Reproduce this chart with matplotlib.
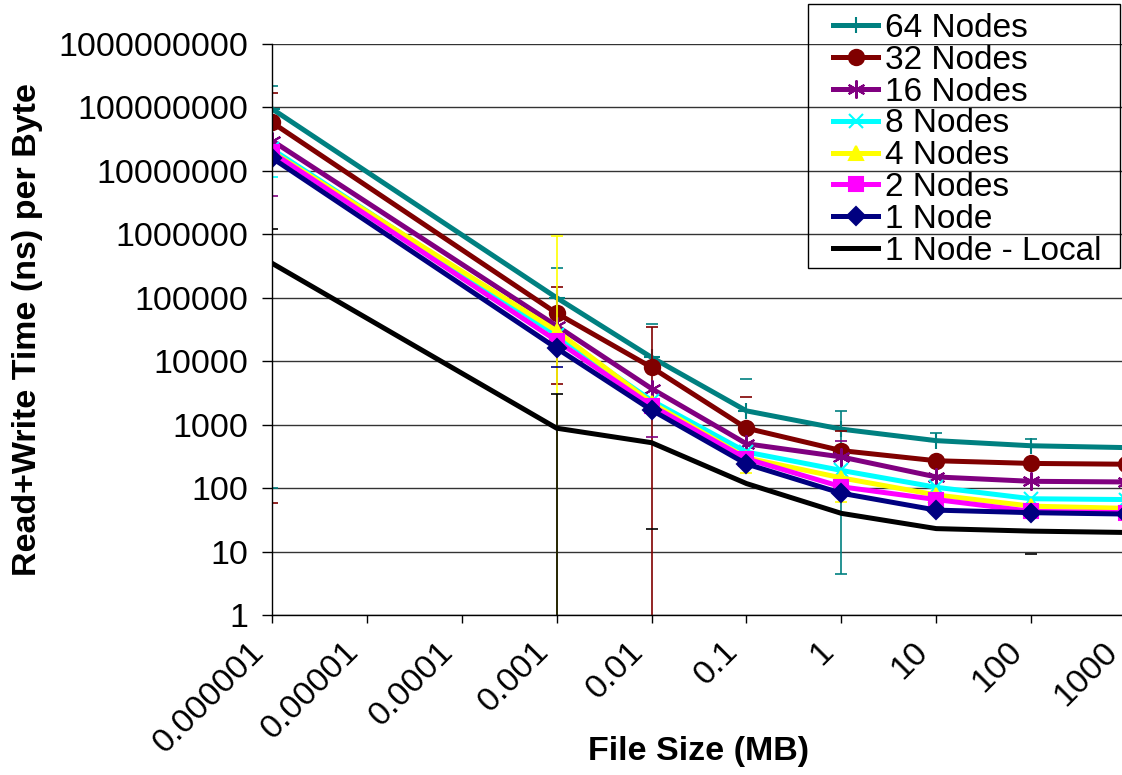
import numpy as np
import matplotlib
matplotlib.use("Agg")
from matplotlib import pyplot as plt
from matplotlib.ticker import FixedLocator, FixedFormatter, NullLocator
from matplotlib.transforms import ScaledTranslation
from matplotlib.patches import Rectangle

nan = np.nan

# file sizes in MB
sizes = [1e-6, 1e-3, 1e-2, 1e-1, 1, 10, 100, 1000]
x_ticks = [1e-6, 1e-5, 1e-4, 1e-3, 1e-2, 1e-1, 1, 10, 100, 1000]
x_labels = ['0.000001', '0.00001', '0.0001', '0.001', '0.01', '0.1',
            '1', '10', '100', '1000']
y_ticks = [1, 10, 100, 1000, 10000, 100000, 1000000, 10000000,
           100000000, 1000000000]

labels = ['64 Nodes', '32 Nodes', '16 Nodes', '8 Nodes', '4 Nodes',
          '2 Nodes', '1 Node', '1 Node - Local']

# mean read+write time (ns) per byte
t64 = [9.5e7, 1.0e5, 11500, 1650, 850, 560, 465, 435]
t32 = [5.8e7, 5.7e4, 8000, 880, 390, 270, 245, 238]
t16 = [3.0e7, 3.6e4, 3700, 500, 310, 150, 128, 125]
t8 = [2.2e7, 2.6e4, 2400, 370, 190, 103, 68, 66]
t4 = [2.0e7, 3.0e4, 2200, 300, 145, 78, 52, 48]
t2 = [1.95e7, 2.1e4, 2000, 290, 105, 66, 43, 41]
t1 = [1.6e7, 1.6e4, 1700, 240, 83, 45, 41, 39]
tloc = [3.5e5, 880, 520, 118, 40, 23, 21, 20]

# error bar upper / lower ends (nan = no bar)
hi64 = [2.2e8, 2.9e5, 3.8e4, 5200, 1650, 730, 600, nan]
lo64 = [100, nan, nan, nan, 4.4, nan, nan, nan]
hi32 = [1.7e8, 1.5e5, 3.5e4, 2700, 800, nan, nan, nan]
lo32 = [58, 4400, 0.01, nan, nan, nan, nan, nan]
hi16 = [nan, nan, nan, nan, 560, nan, nan, nan]
lo16 = [4e6, nan, 650, nan, nan, nan, nan, nan]
hi8 = [nan, nan, nan, nan, nan, nan, nan, nan]
lo8 = [8e6, nan, nan, nan, nan, nan, nan, nan]
hi4 = [nan, 9.5e5, nan, nan, nan, nan, nan, nan]
lo4 = [nan, 0.01, nan, 175, 60, nan, nan, nan]
hi2 = [nan, nan, nan, nan, nan, nan, nan, nan]
lo2 = [nan, nan, nan, nan, nan, nan, nan, nan]
hi1 = [nan, nan, nan, nan, nan, nan, nan, nan]
lo1 = [nan, 8000, nan, nan, nan, nan, nan, nan]
hiloc = [1.2e6, 3000, nan, nan, nan, nan, nan, nan]
loloc = [0.01, 0.01, 23, 0.01, 0.01, 0.01, 9.2, nan]

series = [
    (t64, hi64, lo64, '#008080', '+', 12),
    (t32, hi32, lo32, '#800000', 'o', 11),
    (t16, hi16, lo16, '#800080', (6, 2, 0), 13),
    (t8, hi8, lo8, '#00ffff', 'x', 10),
    (t4, hi4, lo4, '#ffff00', '^', 10),
    (t2, hi2, lo2, '#ff00ff', 's', 10),
    (t1, hi1, lo1, '#000080', 'D', 9),
    (tloc, hiloc, loloc, '#000000', 'None', 0),
]

plt.rcParams['font.family'] = ['Liberation Sans', 'DejaVu Sans']

fig = plt.figure(figsize=(11.22, 7.75), dpi=100)
ax = fig.add_axes([272 / 1122, 1 - 615 / 775, (1126 - 272) / 1122, (615 - 44) / 775])
ax.set_xscale('log')
ax.set_yscale('log')

for (t, hi, lo, col, mk, ms), lab in zip(series, labels):
    t = np.array(t)
    up = np.array(hi) - t
    dn = t - np.array(lo)
    ax.errorbar(sizes, t, yerr=[dn, up], fmt='none', ecolor=col,
                elinewidth=1.2, capsize=4, capthick=1.2)
    ax.plot(sizes, t, color=col, lw=3.6, marker=mk, ms=ms,
            mew=1.5, label=lab)

ax.set_xlim(1e-6, 1e3)
ax.set_ylim(1, 1e9)
ax.xaxis.set_major_locator(FixedLocator(x_ticks))
ax.xaxis.set_major_formatter(FixedFormatter(x_labels))
ax.xaxis.set_minor_locator(NullLocator())
ax.yaxis.set_major_locator(FixedLocator(y_ticks))
ax.yaxis.set_major_formatter(FixedFormatter([str(v) for v in y_ticks]))
ax.yaxis.set_minor_locator(NullLocator())

ax.grid(axis='y', color='#333333', lw=1)
ax.set_axisbelow(True)
for s in ['top', 'right']:
    ax.spines[s].set_visible(False)
for s in ['left', 'bottom']:
    ax.spines[s].set_color('black')
    ax.spines[s].set_linewidth(1)

ax.tick_params(axis='y', length=7, width=1, labelsize=24.5, pad=10)
ax.tick_params(axis='x', length=6, width=1, labelsize=24.5, pad=4)
shift = ScaledTranslation(-24 / 100, -7 / 100, fig.dpi_scale_trans)
for lbl in ax.get_xticklabels():
    lbl.set_rotation(45)
    lbl.set_ha('right')
    lbl.set_rotation_mode('anchor')
    lbl.set_transform(lbl.get_transform() + shift)

ax.set_xlabel('File Size (MB)', fontsize=24.5, fontweight='bold')
ax.xaxis.set_label_coords(0.5, -0.212)
ax.set_ylabel('Read+Write Time (ns) per Byte', fontsize=24.5, fontweight='bold')
ax.yaxis.set_label_coords(-0.268, 0.5)

leg = fig.legend(loc='upper left', bbox_to_anchor=(833 / 1122, 1 - 13 / 775),
                 fontsize=24, frameon=False, labelspacing=0.025,
                 handlelength=1.35, handletextpad=0.2, borderpad=0,
                 borderaxespad=0)
fig.patches.append(Rectangle((808 / 1122, 1 - 268 / 775), 312 / 1122, 264 / 775,
                             transform=fig.transFigure, fill=False,
                             edgecolor='black', lw=1))

fig.savefig('out.png', dpi=100)
